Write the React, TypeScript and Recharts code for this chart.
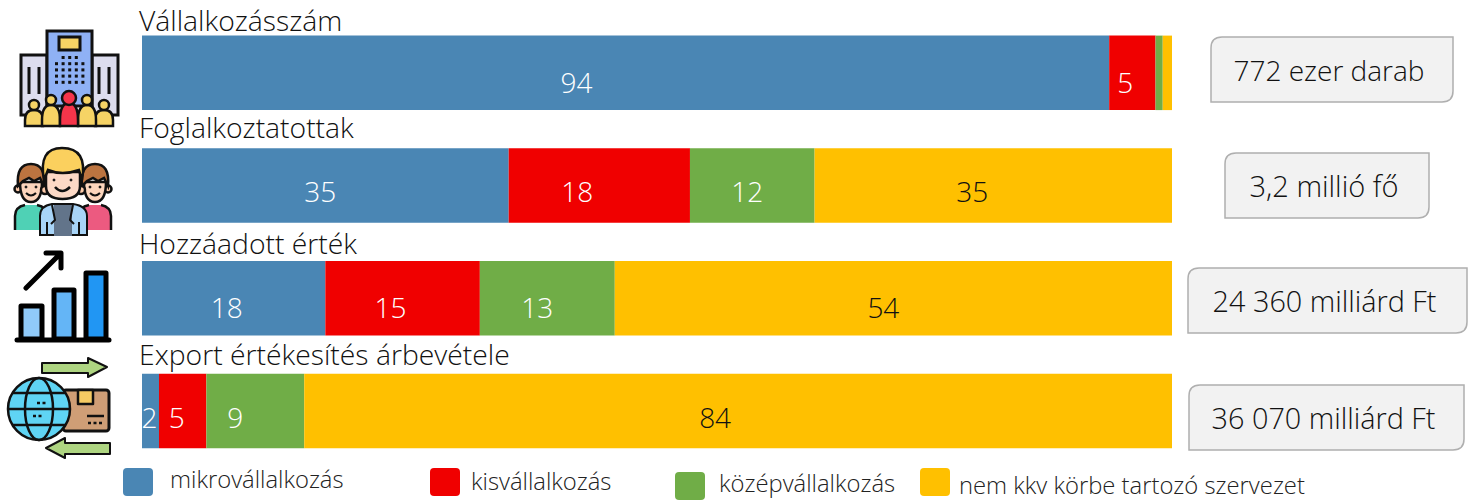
import { Bar, BarChart, LabelList, XAxis, YAxis } from "recharts"

const FONT = '"Open Sans", "Noto Sans", sans-serif'

const rowTitles = [
	"Vállalkozásszám",
	"Foglalkoztatottak",
	"Hozzáadott érték",
	"Export értékesítés árbevétele",
]
const microValues = [93.9, 35.6, 17.8, 1.65]
const smallValues = [4.5, 17.6, 15.0, 4.6]
const mediumValues = [0.7, 12.1, 13.1, 9.5]
const otherValues = [0.9, 34.7, 54.1, 84.25]

const microLabels = ["94", "35", "18", "2"]
const smallLabels = ["5", "18", "15", "5"]
const mediumLabels = ["", "12", "13", "9"]
const otherLabels = ["", "35", "54", "84"]

const seriesNames = [
	"mikrovállalkozás",
	"kisvállalkozás",
	"középvállalkozás",
	"nem kkv körbe tartozó szervezet",
]
const totals = [
	"772 ezer darab",
	"3,2 millió fő",
	"24 360 milliárd Ft",
	"36 070 milliárd Ft",
]

const colors = ["#4A86B4", "#F00000", "#70AD47", "#FFC000"]
const labelColors = ["#fff", "#fff", "#fff", "#111"]

// the labels are not centred in the segments in the original
const labelNudgeX = [
	[-49, -5, -7, -1],
	[-7, -22, -12, -6],
	[0, -5, -10, -20],
	[0, -21, -10, -23],
]
const labelNudgeY = [9, 5, 9, 6]
const titleNudgeY = [3, -2.5, 1, -1]

const legendLayout = [
	{ box: 123, text: 170, y: 468, textY: 489 },
	{ box: 430, text: 471, y: 468, textY: 491 },
	{ box: 675, text: 719, y: 472, textY: 493 },
	{ box: 920, text: 959, y: 468, textY: 495 },
]
const boxLayout = [
	{ x: 1211, y: 37, w: 242, h: 65, size: 28 },
	{ x: 1225, y: 153, w: 204, h: 65, size: 29 },
	{ x: 1188, y: 268, w: 279, h: 65, size: 28.8 },
	{ x: 1189, y: 385, w: 275, h: 65, size: 28.8 },
]

const chartData = rowTitles.map((name, i) => ({
	name,
	micro: microValues[i],
	small: smallValues[i],
	medium: mediumValues[i],
	other: otherValues[i],
}))

const seriesKeys = ["micro", "small", "medium", "other"]
const seriesLabels = [microLabels, smallLabels, mediumLabels, otherLabels]

function RowTitle({ y, payload, index }: any) {
	return (
		<text
			x={139}
			y={y - 45 + titleNudgeY[index]}
			fontFamily={FONT}
			fontWeight={300}
			fontSize={28.3}
			fill="#111"
		>
			{payload.value}
		</text>
	)
}

function segmentLabel(series: number) {
	return ({ x, y, width, height, index }: any) => (
		<text
			x={x + width / 2 + labelNudgeX[series][index]}
			y={y + height / 2 + labelNudgeY[index]}
			textAnchor="middle"
			dominantBaseline="central"
			fontFamily={FONT}
			fontWeight={300}
			fontSize={28}
			fill={labelColors[series]}
		>
			{seriesLabels[series][index]}
		</text>
	)
}

function TotalBox({ x, y, w, h, size, text }: any) {
	const r = 11
	const d = `M${x} ${y + r}Q${x} ${y} ${x + r} ${y}H${x + w}V${y + h - r}Q${x + w} ${y + h} ${x + w - r} ${y + h}H${x}Z`
	return (
		<g>
			<path d={d} fill="#F2F2F2" stroke="#AFAFAF" strokeWidth={1.5} />
			<text
				x={x + w / 2 - 3}
				y={y + h / 2}
				textAnchor="middle"
				dominantBaseline="central"
				fontFamily={FONT}
				fontWeight={300}
				fontSize={size}
				fill="#111"
			>
				{text}
			</text>
		</g>
	)
}

function Person({ cx, top, bottom, bx }: any) {
	return (
		<g stroke="#111" strokeWidth={2.5}>
			<path d={`M${cx - 9} ${bottom}V${bottom - 6}Q${cx - 9} ${top} ${cx} ${top}Q${cx + 9} ${top} ${cx + 9} ${bottom - 6}V${bottom}Z`} fill={bx} />
			<circle cx={cx} cy={top - 5} r={top > 104 ? 5 : 7} fill={bx} />
		</g>
	)
}

function BuildingsIcon() {
	const dots = []
	for (let r = 0; r < 5; r++) {
		for (let c = 0; c < 5; c++) {
			if (r === 0 && (c === 0 || c === 4)) continue
			dots.push(<rect key={`${r}-${c}`} x={55 + c * 6.6} y={56 + r * 6.2} width={3} height={3} fill="#111" />)
		}
	}
	return (
		<g>
			<rect x={21} y={55} width={26} height={60} fill="#DDDDEE" stroke="#111" strokeWidth={3} />
			<rect x={92} y={55} width={26} height={60} fill="#DDDDEE" stroke="#111" strokeWidth={3} />
			<rect x={47} y={31} width={45} height={75} fill="#8FB1F5" stroke="#111" strokeWidth={3} />
			<rect x={59} y={37} width={21} height={13} fill="#F6D365" stroke="#111" strokeWidth={3} />
			{dots}
			{[29, 39, 99, 109].map((x) => (
				<rect key={x} x={x - 1.5} y={67} width={3} height={27} fill="#111" />
			))}
			<Person cx={34} top={110} bottom={126} bx="#F6D365" />
			<Person cx={104} top={110} bottom={126} bx="#F6D365" />
			<Person cx={51} top={105} bottom={126} bx="#F6D365" />
			<Person cx={87} top={105} bottom={126} bx="#F6D365" />
			<Person cx={69} top={103} bottom={126} bx="#F5354A" />
		</g>
	)
}

function SideFace({ cx }: { cx: number }) {
	const shirt = cx < 62 ? "#4FD1B5" : "#EC5A80"
	return (
		<g stroke="#111" strokeWidth={2.5}>
			<path d={`M${cx - 16} 230V216Q${cx - 16} 207 ${cx - 6} 205H${cx + 6}Q${cx + 16} 207 ${cx + 16} 216V230Z`} fill={shirt} stroke="none" />
			<path d={`M${cx - 16} 230V216Q${cx - 16} 207 ${cx - 6} 205M${cx + 6} 205Q${cx + 16} 207 ${cx + 16} 216V230`} fill="none" />
			<circle cx={cx - 13} cy={189} r={3.5} fill="#FCC9A8" />
			<circle cx={cx + 13} cy={189} r={3.5} fill="#FCC9A8" />
			<path d={`M${cx - 11} 182Q${cx - 11} 202 ${cx} 202Q${cx + 11} 202 ${cx + 11} 182Z`} fill="#FCD5BC" />
			<path d={`M${cx - 13} 186Q${cx - 15} 164 ${cx} 164Q${cx + 15} 164 ${cx + 13} 186L${cx + 9} 178L${cx + 3} 181L${cx - 2} 178L${cx - 8} 181Z`} fill="#BC7440" />
			<path d={`M${cx - 5} 193Q${cx} 198 ${cx + 5} 193`} fill="none" strokeWidth={2} />
			<circle cx={cx - 5} cy={187} r={1} fill="#111" strokeWidth={1} />
			<circle cx={cx + 5} cy={187} r={1} fill="#111" strokeWidth={1} />
		</g>
	)
}

function PeopleIcon() {
	return (
		<g>
			<SideFace cx={31} />
			<SideFace cx={95} />
			<g stroke="#111" strokeWidth={2.5}>
				<path d="M40 235V216Q40 206 52 204L73 204Q87 206 87 216V235Z" fill="#A8D4F7" strokeWidth={2} />
				<rect x={54} y={205} width={18} height={31} fill="#62748A" stroke="none" />
				<path d="M52 205L55 220L51 224M73 205L70 220L74 224M47 222V235M79 222V235" fill="none" strokeWidth={2} />
				<circle cx={45} cy={190} r={4} fill="#FCC9A8" />
				<circle cx={81} cy={190} r={4} fill="#FCC9A8" />
				<path d="M46 172V186Q46 199 62.5 199Q80 199 80 186V172Z" fill="#FCD9C6" />
				<path d="M44 180Q38 148 62 148Q88 148 82 180L79 170Q62 176 48 170Z" fill="#FBD05E" />
				<path d="M55 187Q62 195 70 187" fill="none" strokeWidth={2.5} />
				<circle cx={54} cy={180} r={1} fill="#111" strokeWidth={1} />
				<circle cx={71} cy={180} r={1} fill="#111" strokeWidth={1} />
			</g>
		</g>
	)
}

function GrowthIcon() {
	return (
		<g stroke="#000" strokeWidth={5} strokeLinejoin="round" strokeLinecap="round">
			<rect x={21} y={306} width={21} height={33} fill="#90CAF9" />
			<rect x={54} y={290} width={20} height={49} fill="#64B5F6" />
			<rect x={86} y={273} width={20} height={66} fill="#2196F3" />
			<path d="M17 340H109" fill="none" />
			<path d="M26 288L60 254M46 253H61V268" fill="none" />
		</g>
	)
}

function ExportIcon() {
	return (
		<g stroke="#111" strokeWidth={2.5} strokeLinejoin="round">
			<path d="M42 363H88V358L107 367L88 377V373H42Z" fill="#AED581" strokeWidth={2} />
			<path d="M110 443H65V438L46 448L65 458V454H110Z" fill="#AED581" strokeWidth={2} />
			<rect x={63} y={390} width={46} height={41} rx={3} fill="#CF9E76" strokeWidth={3} />
			<circle cx={39} cy={409} r={31} fill="#5FD4F4" />
			<ellipse cx={39} cy={409} rx={14} ry={31} fill="none" />
			<path d="M8 409H70M13 393H65M13 425H65" fill="none" />
			<rect x={78} y={390} width={15} height={14} fill="#F6CB63" />
			<path d="M87 416H104" fill="none" />
			<path d="M88 423H103" stroke="#111" strokeWidth={2.5} strokeDasharray="3 2.5" fill="none" />
			<path d="M37 403H47M33 416H43" strokeWidth={2.5} strokeDasharray="3 2.5" fill="none" />
		</g>
	)
}

export default function App() {
	return (
		<div style={{ position: "absolute", left: 0, top: 0, width: 1470, height: 502, background: "#fff" }}>
			<BarChart
				width={1470}
				height={502}
				data={chartData}
				layout="vertical"
				margin={{ top: 16.6, right: 298, bottom: 34.6, left: 141 }}
				barSize={74.5}
			>
				<XAxis type="number" domain={[0, 100]} hide />
				<YAxis
					type="category"
					dataKey="name"
					width={1}
					axisLine={false}
					tickLine={false}
					tick={RowTitle}
					interval={0}
				/>
				{seriesKeys.map((key, s) => (
					<Bar
						key={key}
						dataKey={key}
						stackId="a"
						fill={colors[s]}
						isAnimationActive={false}
					>
						<LabelList dataKey={key} content={segmentLabel(s)} />
					</Bar>
				))}
			</BarChart>
			<svg
				width={1470}
				height={502}
				style={{ position: "absolute", left: 0, top: 0, pointerEvents: "none" }}
			>
				<BuildingsIcon />
				<PeopleIcon />
				<GrowthIcon />
				<ExportIcon />
				{totals.map((text, i) => (
					<TotalBox key={text} {...boxLayout[i]} text={text} />
				))}
				{seriesNames.map((name, i) => (
					<g key={name}>
						<rect x={legendLayout[i].box} y={legendLayout[i].y} width={30} height={28} rx={4} fill={colors[i]} />
						<text
							x={legendLayout[i].text}
							y={legendLayout[i].textY - 1}
							fontFamily={FONT}
							fontWeight={300}
							fontSize={23.8}
							fill="#222"
						>
							{name}
						</text>
					</g>
				))}
			</svg>
		</div>
	)
}
